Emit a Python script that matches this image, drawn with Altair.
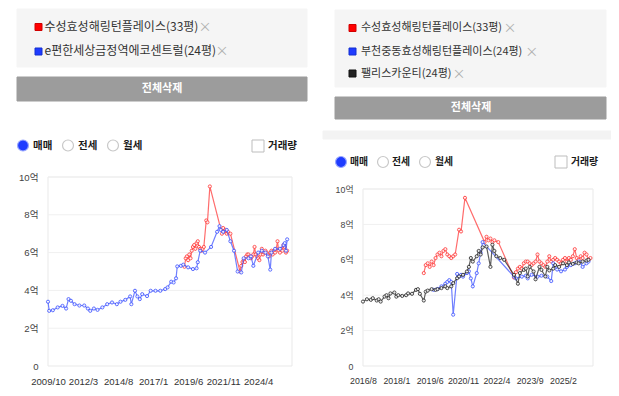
import altair as alt
import pandas as pd

FONT = "Noto Sans CJK KR"
AXIS_FONT = "Liberation Sans, Noto Sans CJK KR"

# ---------------- data ----------------
RED_NAME = "수성효성해링턴플레이스(33평)"
BLUE_L_NAME = "e편한세상금정역에코센트럴(24평)"
BLUE_R_NAME = "부천중동효성해링턴플레이스(24평)"
BLACK_NAME = "팰리스카운티(24평)"

RED_MONTHS = ["2019/3", "2019/4", "2019/5", "2019/6", "2019/7", "2019/8", "2019/9", "2019/10",
              "2019/11", "2019/12", "2020/1", "2020/2", "2020/3", "2020/4", "2020/5", "2020/6",
              "2020/7", "2020/9", "2020/10", "2020/12", "2021/10", "2021/11", "2021/12", "2022/1",
              "2022/2", "2022/3", "2022/5", "2023/1", "2023/2", "2023/3", "2023/4", "2023/5",
              "2023/6", "2023/7", "2023/8", "2023/9", "2023/10", "2023/11", "2023/12", "2024/1",
              "2024/2", "2024/3", "2024/4", "2024/5", "2024/6", "2024/7", "2024/8", "2024/9",
              "2024/10", "2024/11", "2024/12", "2025/1", "2025/2", "2025/3", "2025/4", "2025/5",
              "2025/6", "2025/7", "2025/8", "2025/9", "2025/10", "2025/11", "2025/12", "2026/1",
              "2026/2", "2026/3", "2026/4"]
RED_PRICES = [5.25, 5.7, 5.8, 5.6, 5.9, 5.7, 6.1, 6.3,
              6.4, 6.2, 6.5, 6.6, 6.3, 6.2, 6.1, 6.2,
              6.3, 7.7, 7.6, 9.5, 7.0, 7.3, 7.1, 7.2,
              7.0, 7.1, 7.0, 5.0, 5.3, 5.5, 5.6, 5.5,
              5.8, 5.9, 5.9, 5.8, 5.7, 5.8, 5.9, 6.3,
              5.9, 5.8, 5.7, 5.6, 5.9, 6.2, 5.9, 6.0,
              6.1, 6.0, 5.9, 5.8, 6.0, 6.1, 5.9, 6.1,
              6.0, 6.2, 6.6, 6.1, 6.0, 6.2, 6.1, 6.4,
              6.3, 6.0, 6.1]

BLUE_L_MONTHS = ["2009/10", "2009/11", "2010/2", "2010/6", "2010/10", "2011/1", "2011/3", "2011/5",
                 "2011/8", "2011/12", "2012/4", "2012/7", "2012/9", "2012/12", "2013/3", "2013/7",
                 "2013/11", "2014/3", "2014/7", "2014/10", "2015/2", "2015/6", "2015/7", "2015/10",
                 "2015/12", "2016/2", "2016/4", "2016/8", "2016/11", "2017/3", "2017/7", "2017/11",
                 "2018/1", "2018/4", "2018/6", "2018/8", "2018/9", "2018/12", "2019/2", "2019/6",
                 "2019/10", "2020/1", "2020/2", "2020/4", "2020/8", "2021/1", "2021/6", "2021/8",
                 "2021/9", "2021/11", "2022/2", "2022/5", "2022/8", "2022/11", "2023/2", "2023/4",
                 "2023/8", "2023/10", "2023/12", "2024/4", "2024/7", "2024/10", "2024/12", "2025/2",
                 "2025/3", "2025/6", "2025/10", "2026/1", "2026/2", "2026/3", "2026/4"]
BLUE_L_PRICES = [3.4, 2.92, 2.95, 3.1, 3.18, 3.04, 3.54, 3.45,
                 3.27, 3.2, 3.2, 3.04, 2.92, 3.04, 2.97, 3.1,
                 3.27, 3.36, 3.27, 3.4, 3.5, 3.68, 3.27, 3.98,
                 3.68, 3.54, 3.8, 3.7, 3.98, 3.98, 3.98, 4.07,
                 4.16, 4.46, 4.42, 4.64, 5.27, 5.3, 5.36, 5.22,
                 5.13, 5.17, 5.49, 6.1, 6.0, 6.3, 7.1, 7.4,
                 7.2, 7.1, 7.2, 6.6, 6.1, 5.0, 4.95, 5.7,
                 5.7, 5.8, 5.3, 6.0, 6.1, 6.0, 5.8, 5.1,
                 6.0, 6.2, 6.2, 6.4, 6.5, 6.1, 6.7]

BLUE_R_MONTHS = ["2019/8", "2019/10", "2019/12", "2020/2", "2020/3", "2020/4", "2020/5", "2020/6",
                 "2020/8", "2020/9", "2020/10", "2020/11", "2021/1", "2021/2", "2021/3", "2021/4",
                 "2021/6", "2021/7", "2021/8", "2021/9", "2023/1", "2023/2", "2023/5", "2023/7",
                 "2023/8", "2023/10", "2024/1", "2024/3", "2024/6", "2024/8", "2024/9", "2024/11",
                 "2025/1", "2025/3", "2025/4", "2025/6", "2025/8", "2025/10", "2025/11", "2025/12",
                 "2026/2", "2026/3"]
BLUE_R_PRICES = [4.3, 4.35, 4.5, 4.65, 4.75, 4.85, 4.75, 2.9,
                 5.2, 5.05, 5.15, 5.05, 5.25, 5.35, 4.95, 4.5,
                 5.25, 5.8, 6.4, 7.0, 5.05, 4.95, 5.05, 5.1,
                 4.95, 5.15, 5.05, 5.1, 5.05, 4.8, 5.8, 5.45,
                 5.35, 5.45, 5.6, 5.7, 5.8, 5.9, 5.85, 5.6,
                 5.8, 5.9]

BLACK_MONTHS = ["2016/8", "2016/10", "2016/12", "2017/1", "2017/3", "2017/4", "2017/5", "2017/7",
                "2017/8", "2017/9", "2017/10", "2017/12", "2018/1", "2018/2", "2018/4", "2018/6",
                "2018/7", "2018/9", "2018/11", "2018/12", "2019/1", "2019/3", "2019/4", "2019/5",
                "2019/7", "2019/9", "2019/10", "2019/12", "2020/2", "2020/3", "2020/5", "2020/6",
                "2020/8", "2020/9", "2020/11", "2021/1", "2021/2", "2021/3", "2021/4", "2021/6",
                "2021/7", "2021/8", "2021/9", "2021/11", "2022/1", "2022/2", "2022/3", "2022/4",
                "2022/6", "2022/8", "2023/1", "2023/3", "2023/4", "2023/6", "2023/7", "2023/8",
                "2023/9", "2023/11", "2023/12", "2024/2", "2024/3", "2024/5", "2024/6", "2024/7",
                "2024/9", "2024/10", "2024/12", "2025/2", "2025/4", "2025/5", "2025/7", "2025/9",
                "2025/10", "2025/12", "2026/2", "2026/3"]
BLACK_PRICES = [3.64, 3.77, 3.74, 3.83, 3.7, 3.77, 3.64, 3.92,
                4.0, 3.83, 4.1, 4.15, 3.92, 4.0, 3.96, 4.0,
                4.1, 4.08, 4.3, 4.34, 4.08, 3.7, 4.2, 4.26,
                4.34, 4.3, 4.34, 4.4, 4.5, 4.4, 4.5, 4.68,
                4.96, 5.06, 5.15, 5.34, 5.6, 6.1, 5.9, 6.2,
                6.5, 6.3, 6.7, 6.75, 5.6, 6.85, 6.5, 6.2,
                6.1, 6.0, 5.15, 4.65, 5.25, 5.43, 5.5, 5.06,
                5.6, 5.34, 4.9, 5.6, 5.43, 5.06, 5.6, 5.4,
                5.5, 5.7, 5.6, 5.8, 5.7, 5.85, 5.77, 5.85,
                5.8, 5.9, 5.96, 6.0]

LEFT_TICKS = ["2009/10", "2012/3", "2014/8", "2017/1", "2019/6", "2021/11", "2024/4"]
RIGHT_TICKS = ["2016/8", "2018/1", "2019/6", "2020/11", "2022/4", "2023/9", "2025/2"]
Y_TICKS = [0, 2, 4, 6, 8, 10]
TRADE_TYPES = ["매매", "전세", "월세"]
VOLUME_LABEL = "거래량"
CLEAR_LABEL = "전체삭제"
CLOSE_MARK = "×"

RED = "#ff3b3b"
BLUE = "#4055ff"
BLACK = "#2a2a2a"


def months_since(label, origin):
    y, m = (int(p) for p in label.split("/"))
    oy, om = (int(p) for p in origin.split("/"))
    return (y - oy) * 12 + (m - om)


def series_df(months, prices, origin):
    return pd.DataFrame({"t": [months_since(d, origin) for d in months],
                         "price": prices, "date": months})


ONE = pd.DataFrame({"a": [0]})


def panel(series, origin, ticks, x_domain, x_range, y_range, font_size):
    oy, om = (int(p) for p in origin.split("/"))
    label_expr = (f"floor((datum.value + {om - 1}) / 12) + {oy} + '/' + "
                  f"((datum.value + {om - 1}) % 12 + 1)")
    x_scale = alt.Scale(domain=x_domain, range=x_range, nice=False, zero=False)
    x_axis = alt.Axis(orient="bottom", values=[months_since(t, origin) for t in ticks],
                      labelExpr=label_expr, title=None, grid=False, ticks=False, domain=False,
                      labelFont=AXIS_FONT, labelFontSize=font_size, labelColor="#333",
                      labelPadding=10, labelOverlap=False, labelFlush=False)
    y_scale = alt.Scale(domain=[0, 10], range=y_range, nice=False, zero=True)
    y_axis = alt.Axis(orient="left", offset=-x_range[0], values=Y_TICKS,
                      labelExpr="datum.value == 0 ? '0' : datum.value + '억'",
                      title=None, grid=False, ticks=False, domain=False,
                      labelFont=AXIS_FONT, labelFontSize=font_size, labelColor="#444",
                      labelPadding=10)
    x_enc = alt.X("t:Q", scale=x_scale, axis=x_axis)
    y_enc = alt.Y("price:Q", scale=y_scale, axis=y_axis)

    frame = alt.Chart(ONE).mark_rect(fillOpacity=0, stroke="#e9e9e9", strokeWidth=1).encode(
        x=alt.value(x_range[0]), x2=alt.value(x_range[1]),
        y=alt.value(y_range[1]), y2=alt.value(y_range[0]))
    grid = alt.Chart(pd.DataFrame({"price": Y_TICKS[1:]})).mark_rule(
        color="#f0f0f0", strokeWidth=1).encode(
        y=y_enc, x=alt.value(x_range[0]), x2=alt.value(x_range[1]))
    layers = [frame, grid]
    for df, color in series:
        layers.append(alt.Chart(df).mark_line(color=color, strokeWidth=1.2, opacity=0.75)
                      .encode(x=x_enc, y=y_enc))
        layers.append(alt.Chart(df).mark_point(shape="circle", size=10, filled=True,
                                               fill="white", stroke=color, strokeWidth=1,
                                               opacity=0.85)
                      .encode(x=x_enc, y=y_enc))
    return alt.layer(*layers)


left = panel([(series_df(RED_MONTHS, RED_PRICES, "2009/10"), RED),
              (series_df(BLUE_L_MONTHS, BLUE_L_PRICES, "2009/10"), BLUE)],
             "2009/10", LEFT_TICKS, [0, 202], [40, 284], [358, 169], 9.6)
right = panel([(series_df(RED_MONTHS, RED_PRICES, "2016/8"), RED),
               (series_df(BLUE_R_MONTHS, BLUE_R_PRICES, "2016/8"), BLUE),
               (series_df(BLACK_MONTHS, BLACK_PRICES, "2016/8"), BLACK)],
              "2016/8", RIGHT_TICKS, [0, 117.3], [355, 585], [358, 181], 8.8)

# ---------------- page chrome (layout in pixels) ----------------
rects = pd.DataFrame([
    dict(x=9, x2=299, y=1, y2=59, fill="#f5f5f5", stroke="#f5f5f5"),
    dict(x=327, x2=598, y=2, y2=79, fill="#f5f5f5", stroke="#f5f5f5"),
    dict(x=9, x2=299, y=69, y2=93, fill="#9c9c9c", stroke="#9c9c9c"),
    dict(x=327, x2=598, y=89, y2=111, fill="#9c9c9c", stroke="#9c9c9c"),
    dict(x=315, x2=603, y=123, y2=131, fill="#f3f3f3", stroke="#f3f3f3"),
    dict(x=27, x2=34, y=15.5, y2=22.5, fill="#ff0000", stroke="#d00000"),
    dict(x=27, x2=34, y=40, y2=47, fill="#1f3bff", stroke="#1530d0"),
    dict(x=341, x2=348, y=16.5, y2=23.5, fill="#ff0000", stroke="#d00000"),
    dict(x=341, x2=348, y=40, y2=47, fill="#1f3bff", stroke="#1530d0"),
    dict(x=341, x2=348, y=62, y2=69, fill="#222222", stroke="#111111"),
    dict(x=244, x2=256, y=132, y2=144, fill="#ffffff", stroke="#bdbdbd"),
    dict(x=547, x2=559, y=148, y2=160, fill="#ffffff", stroke="#bdbdbd"),
])
rect_layer = alt.Chart(rects).mark_rect(strokeWidth=1).encode(
    x=alt.X("x:Q", scale=None, axis=None), x2="x2:Q",
    y=alt.Y("y:Q", scale=None, axis=None), y2="y2:Q",
    fill=alt.Fill("fill:N", scale=None), stroke=alt.Stroke("stroke:N", scale=None))

radios = pd.DataFrame([
    dict(x=15, y=137.5, fill="#1e3cff", stroke="#9aa8ff"),
    dict(x=60, y=137.5, fill="#ffffff", stroke="#c8c8c8"),
    dict(x=105, y=137.5, fill="#ffffff", stroke="#c8c8c8"),
    dict(x=333, y=154, fill="#1e3cff", stroke="#9aa8ff"),
    dict(x=375, y=154, fill="#ffffff", stroke="#c8c8c8"),
    dict(x=417, y=154, fill="#ffffff", stroke="#c8c8c8"),
])
radio_layer = alt.Chart(radios).mark_point(shape="circle", size=120, filled=True,
                                           strokeWidth=1.2, opacity=1).encode(
    x=alt.X("x:Q", scale=None, axis=None), y=alt.Y("y:Q", scale=None, axis=None),
    fill=alt.Fill("fill:N", scale=None), stroke=alt.Stroke("stroke:N", scale=None))

legend_texts = pd.DataFrame([
    dict(x=36.5, y=19, text=RED_NAME, size=12),
    dict(x=36.5, y=43, text=BLUE_L_NAME, size=12),
    dict(x=353, y=20, text=RED_NAME, size=11),
    dict(x=353, y=44, text=BLUE_R_NAME, size=11),
    dict(x=353, y=65.5, text=BLACK_NAME, size=11),
])
legend_layer = alt.Chart(legend_texts).mark_text(font=FONT, align="left", baseline="middle",
                                                 color="#333333").encode(
    x=alt.X("x:Q", scale=None, axis=None), y=alt.Y("y:Q", scale=None, axis=None),
    text="text:N", size=alt.Size("size:Q", scale=None))

option_texts = pd.DataFrame([
    dict(x=25, y=137.5, text=TRADE_TYPES[0], size=10.5),
    dict(x=70, y=137.5, text=TRADE_TYPES[1], size=10.5),
    dict(x=115, y=137.5, text=TRADE_TYPES[2], size=10.5),
    dict(x=260, y=138, text=VOLUME_LABEL, size=10.5),
    dict(x=342, y=154, text=TRADE_TYPES[0], size=9.8),
    dict(x=384, y=154, text=TRADE_TYPES[1], size=9.8),
    dict(x=427, y=154, text=TRADE_TYPES[2], size=9.8),
    dict(x=563, y=154, text=VOLUME_LABEL, size=9.8),
])
option_layer = alt.Chart(option_texts).mark_text(font=FONT, align="left", baseline="middle",
                                                 fontWeight="bold", color="#1a1a1a").encode(
    x=alt.X("x:Q", scale=None, axis=None), y=alt.Y("y:Q", scale=None, axis=None),
    text="text:N", size=alt.Size("size:Q", scale=None))

closes = pd.DataFrame([
    dict(x=197, y=19), dict(x=214, y=43),
    dict(x=502, y=20), dict(x=523.7, y=44), dict(x=451, y=65.5),
])
close_layer = alt.Chart(closes).mark_text(font=FONT, align="center", baseline="middle",
                                          fontSize=13, color="#b0b0b0", text=CLOSE_MARK).encode(
    x=alt.X("x:Q", scale=None, axis=None), y=alt.Y("y:Q", scale=None, axis=None))

buttons = pd.DataFrame([dict(x=154, y=80.5, text=CLEAR_LABEL),
                        dict(x=463, y=100, text=CLEAR_LABEL)])
button_layer = alt.Chart(buttons).mark_text(font=FONT, align="center", baseline="middle",
                                            fontSize=11, fontWeight="bold", color="white").encode(
    x=alt.X("x:Q", scale=None, axis=None), y=alt.Y("y:Q", scale=None, axis=None),
    text="text:N")

chart = alt.layer(
    rect_layer, radio_layer, legend_layer, option_layer, close_layer, button_layer, left, right
).resolve_scale(
    x="independent", y="independent"
).properties(
    width=603, height=358,
    padding={"left": 0, "top": 0, "right": 0, "bottom": 22},
    autosize=alt.AutoSizeParams(type="none"),
    background="white",
).configure_view(strokeWidth=0)

chart.save("out.html", embed_options={"renderer": "svg", "actions": False})
